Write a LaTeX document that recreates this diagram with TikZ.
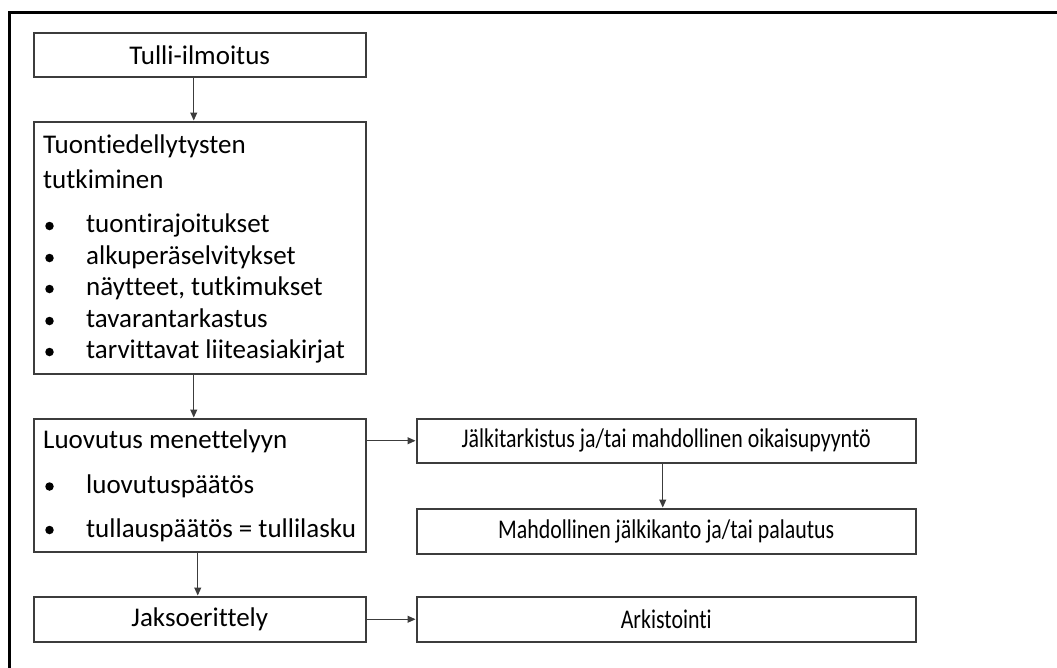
\documentclass[tikz,border=0pt]{standalone}
\usepackage{fontspec}
\setmainfont[Ligatures={NoCommon,NoContextual}]{Carlito}
\usetikzlibrary{arrows.meta}
\definecolor{boxline}{HTML}{3C3C3C}
\tikzset{
  box/.style={draw=boxline, line width=1.5pt, fill=white, inner sep=0pt, anchor=north west},
  txt/.style={inner sep=0pt, font=\fontsize{27}{30}\selectfont, text=black},
  ltxt/.style={txt, anchor=base west},
  arr/.style={draw=boxline, line width=1pt, -{Triangle[length=8pt,width=7pt]}, shorten >=0.5pt},
  dot/.style={circle, fill=black, inner sep=0pt, minimum size=8.5pt},
  frameline/.style={draw=black, line width=2.7pt}
}
\newcommand{\cond}[1]{\scalebox{0.81}[1]{#1}}
\begin{document}
\begin{tikzpicture}[x=1pt,y=-1pt]
\useasboundingbox (0,0) rectangle (1057,667);
% outer frame (cropped at right and bottom)
\draw[frameline] (9.5,680) -- (9.5,12.5) -- (1070,12.5);
% boxes
\node[box, minimum width=332pt, minimum height=44pt] (tulli) at (33,32) {};
\node[box, minimum width=332pt, minimum height=252pt] (tuonti) at (33,121) {};
\node[box, minimum width=332pt, minimum height=133pt] (luov) at (33,418) {};
\node[box, minimum width=332pt, minimum height=45pt] (jakso) at (33,596) {};
\node[box, minimum width=499pt, minimum height=44pt] (jalki) at (416,418) {};
\node[box, minimum width=499pt, minimum height=45pt] (mahd) at (416,508) {};
\node[box, minimum width=499pt, minimum height=45pt] (arki) at (416,596) {};
% centred texts
\node[txt] (tullit) at (tulli.center) {Tulli-ilmoitus};
\node[txt] (jaksot) at (jakso.center) {Jaksoerittely};
\node[txt] (jalkit) at (jalki.center) {\cond{Jälkitarkistus ja/tai mahdollinen oikaisupyyntö}};
\node[txt] (mahdt) at (mahd.center) {\cond{Mahdollinen jälkikanto ja/tai palautus}};
\node[txt] (arkit) at (arki.center) {\cond{Arkistointi}};
% Tuonti box contents
\node[ltxt] (t1) at (43,153) {Tuontiedellytysten};
\node[ltxt] (t2) at (43,188) {tutkiminen};
\node[ltxt] (b1) at (86,232) {tuontirajoitukset};
\node[ltxt] (b2) at (86,264) {alkuperäselvitykset};
\node[ltxt] (b3) at (86,295) {näytteet, tutkimukset};
\node[ltxt] (b4) at (86,327) {tavarantarkastus};
\node[ltxt] (b5) at (86,358) {tarvittavat liiteasiakirjat};
\node[dot] (d1) at (49.5,226) {};
\node[dot] (d2) at (49.5,258) {};
\node[dot] (d3) at (49.5,289) {};
\node[dot] (d4) at (49.5,321) {};
\node[dot] (d5) at (49.5,352) {};
% Luovutus box contents
\node[ltxt] (l1) at (43,448) {Luovutus menettelyyn};
\node[ltxt] (l2) at (86,493) {luovutuspäätös};
\node[ltxt] (l3) at (86,537) {tullauspäätös = tullilasku};
\node[dot] (d6) at (49.5,486.5) {};
\node[dot] (d7) at (49.5,530) {};
% connectors
\draw[arr] ([xshift=-6pt]tulli.south) -- ([xshift=-6pt]tuonti.north);
\draw[arr] ([xshift=-6pt]tuonti.south) -- ([xshift=-6pt]luov.north);
\draw[arr] ([xshift=-2pt]luov.south) -- ([xshift=-2pt]jakso.north);
\draw[arr] (luov.east |- jalki.west) -- (jalki.west);
\draw[arr] ([xshift=-3.5pt]jalki.south) -- ([xshift=-3.5pt]mahd.north);
\draw[arr] (jakso.east) -- (arki.west);
\end{tikzpicture}
\end{document}
